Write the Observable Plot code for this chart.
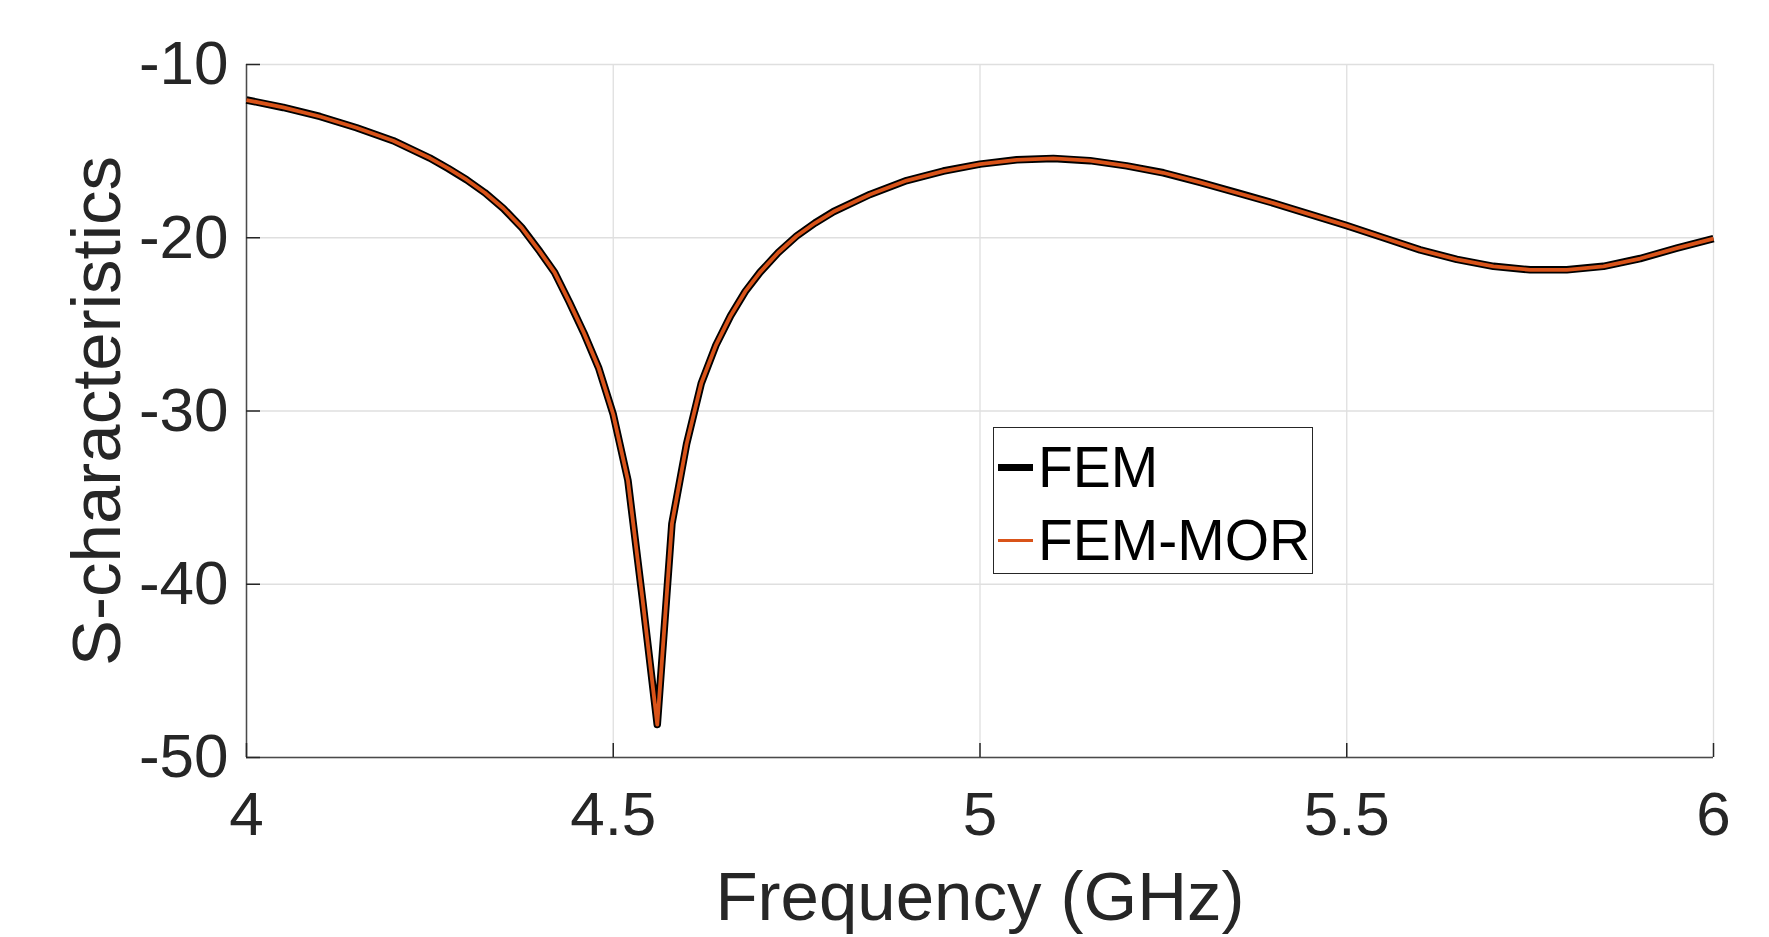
<!DOCTYPE html>
<html>
<head>
<meta charset="utf-8">
<script src="https://cdn.jsdelivr.net/npm/d3@7"></script>
<script src="https://cdn.jsdelivr.net/npm/@observablehq/plot@0.6"></script>
<style>
  body { margin: 0; background: #ffffff; }
  #wrap { position: relative; width: 1769px; height: 937px; overflow: hidden;
          font-family: "Liberation Sans", Arial, Helvetica, sans-serif; }
  #legend { position: absolute; left: 993px; top: 427px; width: 320px; height: 147px;
            box-sizing: border-box; border: 1.3px solid #262626; background: #ffffff; }
  .lg-sample { position: absolute; }
  .lg-text { position: absolute; font-size: 57px; line-height: 57px; color: #000000; white-space: nowrap; }
</style>
</head>
<body>
<div id="wrap"></div>
<script>
// ---- data ----
const frequency = [
  4.00, 4.05, 4.10, 4.15, 4.20, 4.25, 4.275, 4.30, 4.325, 4.35, 4.375, 4.40,
  4.42, 4.44, 4.46, 4.48, 4.50, 4.52, 4.54, 4.56, 4.58, 4.60, 4.62, 4.64,
  4.66, 4.68, 4.70, 4.725, 4.75, 4.775, 4.80, 4.85, 4.90, 4.95, 5.00, 5.05,
  5.10, 5.15, 5.20, 5.25, 5.30, 5.35, 5.40, 5.45, 5.50, 5.55, 5.60, 5.65,
  5.70, 5.75, 5.80, 5.85, 5.90, 5.95, 6.00
];
const femValues = [
  -12.05, -12.48, -13.00, -13.65, -14.40, -15.40, -16.00, -16.65, -17.40, -18.30, -19.40, -20.80,
  -22.00, -23.70, -25.50, -27.50, -30.20, -34.00, -40.90, -48.10, -36.50, -31.90, -28.40, -26.20,
  -24.50, -23.10, -22.00, -20.85, -19.90, -19.15, -18.50, -17.50, -16.70, -16.15, -15.75, -15.50,
  -15.42, -15.55, -15.85, -16.25, -16.80, -17.40, -18.00, -18.65, -19.30, -20.00, -20.70, -21.25,
  -21.65, -21.85, -21.85, -21.65, -21.20, -20.60, -20.05
];
const femMorValues = [
  -12.05, -12.48, -13.00, -13.65, -14.40, -15.40, -16.00, -16.65, -17.40, -18.30, -19.40, -20.80,
  -22.00, -23.70, -25.50, -27.50, -30.20, -34.00, -40.90, -48.10, -36.50, -31.90, -28.40, -26.20,
  -24.50, -23.10, -22.00, -20.85, -19.90, -19.15, -18.50, -17.50, -16.70, -16.15, -15.75, -15.50,
  -15.42, -15.55, -15.85, -16.25, -16.80, -17.40, -18.00, -18.65, -19.30, -20.00, -20.70, -21.25,
  -21.65, -21.85, -21.85, -21.65, -21.20, -20.60, -20.05
];
const seriesNames = ["FEM", "FEM-MOR"];
const seriesColors = ["#000000", "#D95319"];
const xTicks = [4, 4.5, 5, 5.5, 6];
const yTicks = [-50, -40, -30, -20, -10];
const xLabel = "Frequency (GHz)";
const yLabel = "S-characteristics";

// ---- tables built from the arrays ----
const femData = frequency.map((f, i) => ({f, v: femValues[i]}));
const morData = frequency.map((f, i) => ({f, v: femMorValues[i]}));

const fmt = d => String(d);
const gridColor = "#dfdfdf";
const axisColor = "#262626";

const chart = Plot.plot({
  width: 1769,
  height: 937,
  marginLeft: 246,
  marginRight: 56,
  marginTop: 64,
  marginBottom: 180,
  style: {fontFamily: "Liberation Sans, Arial, Helvetica, sans-serif", background: "#ffffff", color: axisColor},
  x: {domain: [4, 6], label: null},
  y: {domain: [-50, -10], label: null},
  marks: [
    Plot.gridX(xTicks, {stroke: gridColor, strokeOpacity: 1, strokeWidth: 1.3}),
    Plot.gridY(yTicks, {stroke: gridColor, strokeOpacity: 1, strokeWidth: 1.3}),
    Plot.ruleY([-50], {stroke: "#4a4a4a", strokeWidth: 1.5}),
    Plot.ruleX([4], {stroke: "#4a4a4a", strokeWidth: 1.5}),
    Plot.line(femData, {x: "f", y: "v", stroke: seriesColors[0], strokeWidth: 7.5, strokeLinejoin: "round", strokeLinecap: "butt"}),
    Plot.line(morData, {x: "f", y: "v", stroke: seriesColors[1], strokeWidth: 3.8, strokeLinejoin: "round", strokeLinecap: "butt"}),
    Plot.axisX(xTicks, {tickSize: -14, tickPadding: 47, fontSize: 62, tickFormat: fmt, color: axisColor, strokeWidth: 1.5, label: null}),
    Plot.axisY(yTicks, {tickSize: -14, tickPadding: 32, fontSize: 62, tickFormat: fmt, color: axisColor, strokeWidth: 1.5, label: null}),
    Plot.text([xLabel], {text: d => d, frameAnchor: "bottom", textAnchor: "middle", dy: 140, lineAnchor: "middle", fontSize: 69, fill: axisColor}),
    Plot.text([yLabel], {text: d => d, frameAnchor: "left", textAnchor: "middle", rotate: -90, dx: -149, lineAnchor: "middle", fontSize: 69, fill: axisColor})
  ]
});

const wrap = document.getElementById("wrap");
wrap.appendChild(chart);

// ---- legend (inside the axes, as in the reference) ----
const legend = document.createElement("div");
legend.id = "legend";
const sampleWidths = [7, 3.8];
seriesNames.forEach((name, i) => {
  const centerY = 39.5 + i * 73;          // relative to legend box
  const s = document.createElement("div");
  s.className = "lg-sample";
  s.style.left = "4px";
  s.style.width = "35px";
  s.style.height = sampleWidths[i] + "px";
  s.style.top = (centerY - sampleWidths[i] / 2) + "px";
  s.style.background = seriesColors[i];
  legend.appendChild(s);
  const t = document.createElement("div");
  t.className = "lg-text";
  t.style.left = "44px";
  t.style.top = (11 + i * 73) + "px";
  t.textContent = name;
  legend.appendChild(t);
});
wrap.appendChild(legend);
</script>
</body>
</html>
